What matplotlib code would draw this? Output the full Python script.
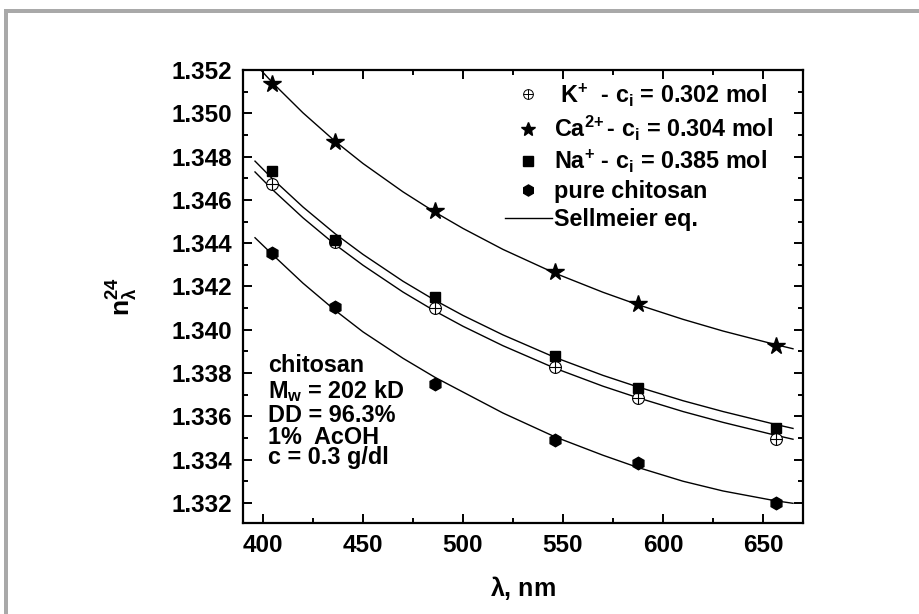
import matplotlib
matplotlib.use('Agg')
import matplotlib.pyplot as plt
from matplotlib.ticker import MultipleLocator, FormatStrFormatter
from matplotlib.legend_handler import HandlerTuple
from matplotlib.lines import Line2D
from matplotlib.patches import Rectangle

# ---------------- data ----------------
wavelengths = [404.7, 435.8, 486.1, 546.1, 587.6, 656.3]
n_K = [1.34672, 1.34405, 1.34099, 1.33830, 1.33683, 1.33494]
n_Ca = [1.35135, 1.34866, 1.34549, 1.34268, 1.34119, 1.33925]
n_Na = [1.34733, 1.34413, 1.34153, 1.33879, 1.33733, 1.33545]
n_chitosan = [1.34356, 1.34103, 1.33748, 1.33491, 1.33383, 1.33199]

# Sellmeier fit curves
fit_wl = [396, 405, 420, 436, 450, 470, 486, 500, 520, 546, 570, 587, 610, 630, 656, 665]
fit_Ca = [1.35229, 1.35139, 1.35002, 1.34871, 1.34768, 1.34637, 1.34543, 1.34468,
          1.34371, 1.34261, 1.34173, 1.34117, 1.34048, 1.33994, 1.33932, 1.33912]
fit_Na = [1.34779, 1.34695, 1.34567, 1.34444, 1.34348, 1.34224, 1.34136, 1.34066,
          1.33976, 1.33872, 1.33789, 1.33737, 1.33672, 1.33622, 1.33563, 1.33544]
fit_K = [1.34729, 1.34645, 1.34517, 1.34394, 1.34298, 1.34174, 1.34086, 1.34016,
         1.33926, 1.33822, 1.33739, 1.33687, 1.33622, 1.33572, 1.33513, 1.33494]
fit_chitosan = [1.34425, 1.34345, 1.34215, 1.34090, 1.33990, 1.33868, 1.33780, 1.33712,
                1.33615, 1.33505, 1.33420, 1.33365, 1.33300, 1.33255, 1.33210, 1.33198]

x_ticks = [400, 450, 500, 550, 600, 650]
y_ticks = [1.332, 1.334, 1.336, 1.338, 1.340, 1.342, 1.344, 1.346, 1.348, 1.350, 1.352]

legend_labels = [r' K$^{\mathbf{+}}$  - c$_{i}$ = 0.302 mol',
                 r'Ca$^{2\!+}$- c$_{i}$ = 0.304 mol',
                 r'Na$^{\mathbf{+}}$ - c$_{i}$ = 0.385 mol',
                 'pure chitosan',
                 'Sellmeier eq.']
info_lines = ['chitosan', r'M$_{w}$ = 202 kD', 'DD = 96.3%', '1%  AcOH', 'c = 0.3 g/dl']

# ---------------- style ----------------
plt.rcParams.update({
    'font.family': ['Liberation Sans', 'DejaVu Sans'],
    'font.weight': 'bold',
    'mathtext.fontset': 'custom',
    'mathtext.rm': 'Liberation Sans:bold',
    'mathtext.it': 'Liberation Sans:bold',
    'mathtext.bf': 'Liberation Sans:bold',
    'mathtext.sf': 'Liberation Sans',
})

fig = plt.figure(figsize=(9.19, 6.14), dpi=100)
fig.patch.set_facecolor('white')
ax = fig.add_axes([243/919, 1-523/614, 560/919, 453/614])

# gray frame pieces
fig.add_artist(Rectangle((4/919, 1-13/614), 1-4/919, 4/614, transform=fig.transFigure,
                         facecolor='#a9a9a9', edgecolor='none'))
fig.add_artist(Rectangle((4/919, 0), 4/919, 1-9/614, transform=fig.transFigure,
                         facecolor='#a9a9a9', edgecolor='none'))

lw_fit = 1.0
for fy in (fit_Ca, fit_Na, fit_K, fit_chitosan):
    ax.plot(fit_wl, fy, color='black', lw=lw_fit, zorder=2)

ax.plot(wavelengths, n_K, ls='none', marker='o', ms=8.5, mfc='white', mec='black', mew=0.8, zorder=3)
ax.plot(wavelengths, n_K, ls='none', marker='+', ms=8.5, mec='black', mew=0.8, zorder=3)
ax.plot(wavelengths, n_Ca, ls='none', marker='*', ms=13, color='black', zorder=4)
ax.plot(wavelengths, n_Na, ls='none', marker='s', ms=7.5, color='black', zorder=4)
ax.plot(wavelengths, n_chitosan, ls='none', marker='h', ms=9, color='black', zorder=4)

ax.set_xlim(390, 670)
ax.set_ylim(1.33107, 1.352)
ax.set_xticks(x_ticks)
ax.set_yticks(y_ticks)
ax.xaxis.set_minor_locator(MultipleLocator(25))
ax.yaxis.set_minor_locator(MultipleLocator(0.001))
ax.yaxis.set_major_formatter(FormatStrFormatter('%.3f'))
ax.tick_params(which='both', direction='in', top=True, right=True, width=1.4)
ax.tick_params(which='major', length=6.5, labelsize=17.5, pad=8)
ax.tick_params(which='minor', length=3.8)
for s in ax.spines.values():
    s.set_linewidth(1.6)
for lab in ax.get_xticklabels() + ax.get_yticklabels():
    lab.set_fontweight('bold')

ax.set_xlabel(r'$\mathsf{\lambda}$, nm', fontsize=18, fontweight='bold', labelpad=12)
ax.set_ylabel(r'$\mathbf{n}^{\mathbf{24}}_{\mathsf{\lambda}}$', fontsize=19)
ax.yaxis.set_label_coords(-0.185, 0.5)

# legend
h_k = (Line2D([], [], ls='none', marker='o', ms=7, mfc='white', mec='black', mew=0.7),
       Line2D([], [], ls='none', marker='+', ms=7, mec='black', mew=0.7))
h_ca = Line2D([], [], ls='none', marker='*', ms=10, color='black')
h_na = Line2D([], [], ls='none', marker='s', ms=7, color='black')
h_ch = Line2D([], [], ls='none', marker='h', ms=8, color='black')
h_fit = Line2D([], [], color='black', lw=lw_fit)
ax.legend([h_k, h_ca, h_na, h_ch, h_fit], legend_labels, loc='upper left',
          bbox_to_anchor=(0.468, 0.975), frameon=False, fontsize=16.8,
          handlelength=2.0, handletextpad=0.1, labelspacing=0.22,
          borderpad=0, borderaxespad=0,
          handler_map={tuple: HandlerTuple(ndivide=1, pad=0)})

info_y = [0.3466, 0.2914, 0.2384, 0.1898, 0.1435]
for txt, yy in zip(info_lines, info_y):
    ax.text(0.0446, yy, txt, transform=ax.transAxes, fontsize=16.8, fontweight='bold',
            ha='left', va='center')

fig.savefig('out.png', dpi=100)
